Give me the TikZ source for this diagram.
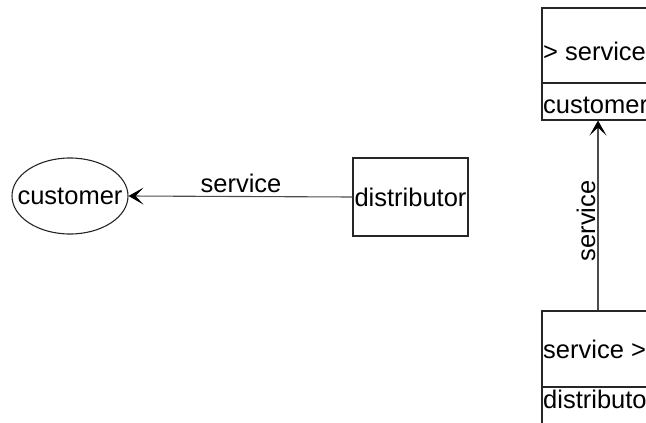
\documentclass[tikz,border=0pt]{standalone}
\usepackage{fontspec}
\setmainfont{Liberation Sans}
\usetikzlibrary{shapes.geometric,arrows.meta}

\tikzset{
  box/.style={draw=black!85, line width=1.1pt, rectangle, inner sep=0pt},
  oval/.style={draw=black!85, line width=1.1pt, ellipse, inner sep=0pt,
               minimum width=116pt, minimum height=76pt},
  txt/.style={inner sep=0pt, font=\fontsize{25.5}{30}\selectfont},
  conn/.style={draw=black!70, line width=1.1pt,
               -{Stealth[length=15pt,width=17pt,inset=8pt,color=black,line width=1pt]}},
}

\begin{document}
\begin{tikzpicture}[x=1pt,y=-1pt]
  \useasboundingbox (0,0) rectangle (646,423);
  \clip (0,0) rectangle (646,423);

  % left pair: distributor -> customer
  \node[oval] (cust) at (70,196) {};
  \node[txt] (custlbl) at (cust.center) {customer};
  \node[box, minimum width=115pt, minimum height=78pt] (dist) at (410.5,197) {};
  \node[txt] (distlbl) at (dist.center) {distributor};
  \draw[conn] (dist.west) -- (cust.east);
  \node[txt, anchor=base] (lblhoriz) at (241,192) {service};

  % right pair: stacked compartments, cut by the page edge
  \node[box, minimum width=112pt, minimum height=75pt] (tophead) at (598,45.5) {};
  \node[box, minimum width=112pt, minimum height=37pt] (topbody) at (598,101.5) {};
  \node[txt, anchor=base west] (topt1) at (543,60) {> service};
  \node[txt, anchor=base west] (topt2) at (543,113) {customer};

  \node[box, minimum width=112pt, minimum height=76pt] (bothead) at (598,349) {};
  \node[box, minimum width=112pt, minimum height=60pt] (botbody) at (598,417) {};
  \node[txt, anchor=base west] (bott1) at (543,358) {service >};
  \node[txt, anchor=base west] (bott2) at (543,408) {distributor};

  \draw[conn] (bothead.north) -- (topbody.south);
  \node[txt, rotate=90, anchor=base] (lblvert) at (595,221) {service};
\end{tikzpicture}
\end{document}
